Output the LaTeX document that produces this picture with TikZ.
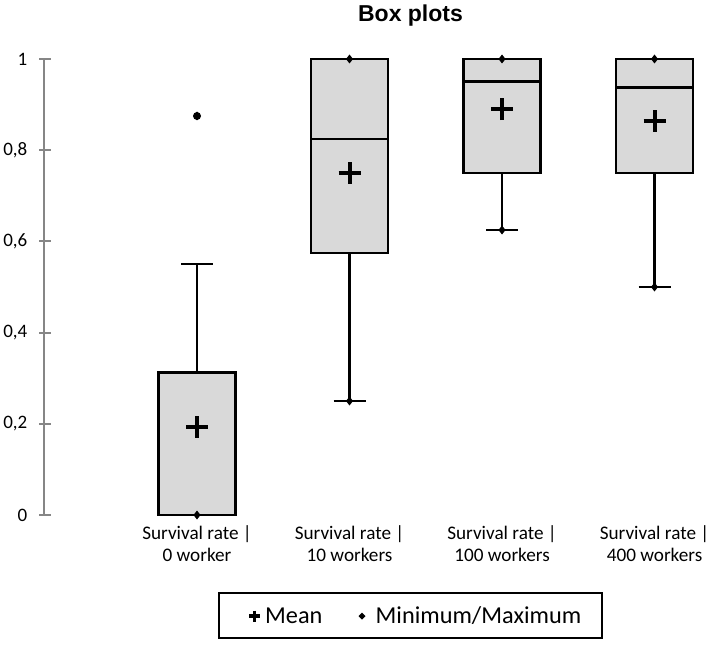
\documentclass[tikz,border=0pt]{standalone}
\usepackage{fontspec}
\setmainfont{Carlito}
\newfontfamily\titlefont{Liberation Sans}
\definecolor{boxgray}{HTML}{D9D9D9}
\definecolor{axisgray}{HTML}{868686}
\tikzset{
  boxst/.style={draw=black, fill=boxgray, line width=2.6pt},
  medst/.style={draw=black, line width=2.6pt},
  whisk/.style={draw=black, line width=2.6pt},
  axisst/.style={draw=axisgray, line width=2pt},
  meanst/.style={draw=black, line width=4pt},
  ticklab/.style={anchor=east, inner sep=0pt, font=\fontsize{19}{22}\selectfont},
  catlab/.style={anchor=base, inner sep=0pt, font=\fontsize{19.2}{22}\selectfont},
  legtext/.style={anchor=base west, inner sep=0pt, font=\fontsize{24.3}{28}\selectfont},
  titlest/.style={anchor=base, inner sep=0pt, font=\titlefont\bfseries\fontsize{23}{27}\selectfont},
  legbox/.style={draw=black, line width=1.8pt, minimum width=383pt, minimum height=45pt, inner sep=0pt}
}
\newcommand\mkdiam[1]{\fill[black] #1 ++(0,4.5pt) -- ++(3.5pt,-4.5pt) -- ++(-3.5pt,-4.5pt) -- ++(-3.5pt,4.5pt) -- cycle;}
\newcommand\mkplus[2]{\draw[meanst] #1 ++(-#2,0) -- ++(2*#2,0); \draw[meanst] #1 ++(0,-#2) -- ++(0,2*#2);}
\begin{document}
\begin{tikzpicture}[x=1pt,y=-1pt]
\useasboundingbox (0,0) rectangle (708,644);
\fill[white] (0,0) rectangle (708,644);
\node[titlest] (title) at (410.5,21.7) {Box plots};
\begin{scope}[shift={(0,515)}, y=456pt]
  % axis
  \draw[axisst] (44,0) coordinate (axbot) -- (44,1) coordinate (axtop);
  \foreach \v/\t [count=\i] in {0/0,0.2/{0,2},0.4/{0,4},0.6/{0,6},0.8/{0,8},1/1}{
    \draw[axisst] (39,\v) -- (51,\v);
    \node[ticklab] (tick\i) at (27.5,\v) {\t};
  }
  % box 1
  \draw[boxst] (158.5,0) rectangle (235.5,0.3125);
  \draw[whisk] (197,0.3125) -- (197,0.55);
  \draw[whisk] (181,0.55) -- (213,0.55);
  \fill[black] (197,0.875) circle (4pt);
  \mkdiam{(197,0.875)}
  \mkdiam{(197,0)}
  \mkplus{(197,0.194)}{11pt}
  % box 2
  \draw[boxst] (311,0.575) rectangle (388,1);
  \draw[medst] (311,0.825) -- (388,0.825);
  \draw[whisk] (349.5,0.575) -- (349.5,0.25);
  \draw[whisk] (333.5,0.25) -- (365.5,0.25);
  \mkdiam{(349.5,0.25)}
  \mkdiam{(349.5,1)}
  \mkplus{(349.5,0.75)}{11pt}
  % box 3
  \draw[boxst] (463.5,0.75) rectangle (540.5,1);
  \draw[medst] (463.5,0.951) -- (540.5,0.951);
  \draw[whisk] (502,0.75) -- (502,0.625);
  \draw[whisk] (486,0.625) -- (518,0.625);
  \mkdiam{(502,0.625)}
  \mkdiam{(502,1)}
  \mkplus{(502,0.89)}{11pt}
  % box 4
  \draw[boxst] (616,0.75) rectangle (693,1);
  \draw[medst] (616,0.9375) -- (693,0.9375);
  \draw[whisk] (654.5,0.75) -- (654.5,0.5);
  \draw[whisk] (638.5,0.5) -- (670.5,0.5);
  \mkdiam{(654.5,0.5)}
  \mkdiam{(654.5,1)}
  \mkplus{(654.5,0.865)}{11pt}
\end{scope}
% category labels
\node[catlab] (c1a) at (197,539.3) {Survival rate |};
\node[catlab] (c1b) at (197,561.7) {0 worker};
\node[catlab] (c2a) at (349.5,539.3) {Survival rate |};
\node[catlab] (c2b) at (349.5,561.7) {10 workers};
\node[catlab] (c3a) at (502,539.3) {Survival rate |};
\node[catlab] (c3b) at (502,561.7) {100 workers};
\node[catlab] (c4a) at (654.5,539.3) {Survival rate |};
\node[catlab] (c4b) at (654.5,561.7) {400 workers};
% legend
\node[legbox] (legend) at (410.5,615.5) {};
\draw[line width=3.6pt] (249,616) -- (260,616);
\draw[line width=3.6pt] (254.5,610.5) -- (254.5,621.5);
\node[legtext] (lmean) at (265,623.3) {Mean};
\fill[black] (362,612.5) -- (365.5,616) -- (362,619.5) -- (358.5,616) -- cycle;
\node[legtext] (lminmax) at (375.5,623.3) {Minimum/Maximum};
\end{tikzpicture}
\end{document}
